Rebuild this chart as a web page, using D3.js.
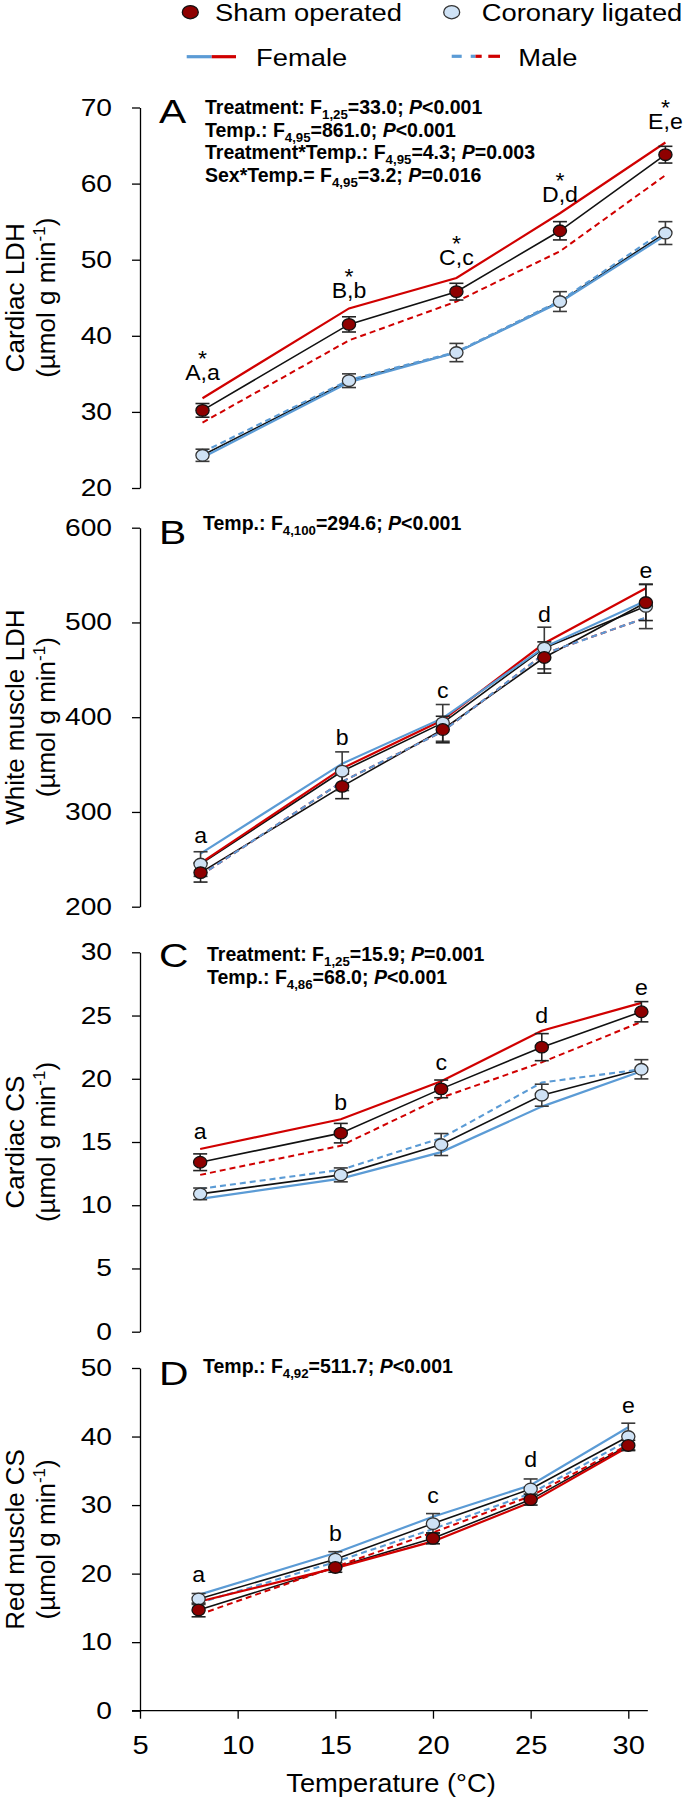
<!DOCTYPE html>
<html><head><meta charset="utf-8">
<script src="https://cdn.jsdelivr.net/npm/d3@7/dist/d3.min.js"></script>
<style>
body{margin:0;background:#fff}
svg{display:block}
text{font-family:"Liberation Sans",Arial,Helvetica,sans-serif;fill:#000}
</style></head>
<body><svg id="chart" width="685" height="1800"></svg>
<script>
// ---------------- DATA ----------------
const xTicks = [5, 10, 15, 20, 25, 30];

// Panel A: Cardiac LDH
const tempsA = [8.2, 15.7, 21.2, 26.5, 31.9];
const shamA = [30.2, 41.5, 45.8, 53.8, 63.8];
const shamErrA = [0.9, 1.0, 1.1, 1.2, 1.1];
const corA = [24.3, 34.1, 37.8, 44.5, 53.5];
const corErrA = [0.8, 0.9, 1.2, 1.3, 1.5];
const femShamA = [31.8, 43.6, 47.6, 56.1, 65.4];
const maleShamA = [28.6, 39.4, 44.5, 51.1, 61.1];
const femCorA = [24.0, 33.9, 37.8, 44.4, 53.2];
const maleCorA = [24.7, 34.2, 37.9, 44.6, 53.9];
const sigA = ["A,a", "B,b", "C,c", "D,d", "E,e"];
const sigPosA = [34.2, 45.0, 49.3, 57.6, 67.2];
const starA = [true, true, true, true, true];
const yTicksA = [20, 30, 40, 50, 60, 70];
const notesA = ["Treatment: F_{1,25}=33.0; ~P~<0.001", "Temp.: F_{4,95}=861.0; ~P~<0.001",
  "Treatment*Temp.: F_{4,95}=4.3; ~P~=0.003", "Sex*Temp.= F_{4,95}=3.2; ~P~=0.016"];

// Panel B: White muscle LDH
const tempsB = [8.1, 15.35, 20.5, 25.7, 30.9];
const shamB = [236, 327, 387, 463, 521];
const shamErrB = [10, 13, 14, 16.5, 19];
const corB = [245, 343, 394, 473, 517];
const corErrB = [13, 20.4, 19.4, 22, 23.5];
const femShamB = [246, 346, 397, 478, 536];
const maleShamB = [233, 332, 385, 467, 505];
const femCorB = [256, 351, 399, 474, 523];
const maleCorB = [233, 332, 385, 467, 505];
const sigB = ["a", "b", "c", "d", "e"];
const sigPosB = [267, 371, 420, 501, 547];
const starB = [false, false, false, false, false];
const yTicksB = [200, 300, 400, 500, 600];
const notesB = ["Temp.: F_{4,100}=294.6; ~P~<0.001"];

// Panel C: Cardiac CS
const tempsC = [8.08, 15.28, 20.42, 25.57, 30.67];
const shamC = [13.4, 15.7, 19.2, 22.5, 25.3];
const shamErrC = [0.66, 0.77, 0.7, 1.07, 0.8];
const corC = [10.9, 12.4, 14.8, 18.7, 20.75];
const corErrC = [0.46, 0.55, 0.87, 0.87, 0.76];
const femShamC = [14.45, 16.8, 19.8, 23.8, 26.0];
const maleShamC = [12.4, 14.7, 18.5, 21.3, 24.5];
const femCorC = [10.5, 12.1, 14.2, 17.8, 20.6];
const maleCorC = [11.3, 12.8, 15.3, 19.7, 20.75];
const sigC = ["a", "b", "c", "d", "e"];
const sigPosC = [15.2, 17.5, 20.7, 24.4, 26.6];
const starC = [false, false, false, false, false];
const yTicksC = [0, 5, 10, 15, 20, 25, 30];
const notesC = ["Treatment: F_{1,25}=15.9; ~P~=0.001", "Temp.: F_{4,86}=68.0; ~P~<0.001"];

// Panel D: Red muscle CS
const tempsD = [8, 15, 20, 25, 30];
const shamD = [14.7, 20.9, 25.15, 30.8, 38.7];
const shamErrD = [1.0, 0.7, 0.8, 0.8, 0.75];
const corD = [16.3, 22.1, 27.3, 32.35, 40.0];
const corErrD = [0.8, 1.1, 1.46, 1.46, 1.95];
const femShamD = [15.9, 20.8, 24.7, 30.4, 38.5];
const maleShamD = [14.0, 21.0, 26.0, 31.3, 38.8];
const femCorD = [16.9, 23.0, 28.3, 32.9, 41.35];
const maleCorD = [15.7, 21.7, 26.5, 31.7, 39.4];
const sigD = ["a", "b", "c", "d", "e"];
const sigPosD = [18.8, 24.7, 30.3, 35.6, 43.4];
const starD = [false, false, false, false, false];
const yTicksD = [0, 10, 20, 30, 40, 50];
const notesD = ["Temp.: F_{4,92}=511.7; ~P~<0.001"];

// ---------------- STYLE / LAYOUT ----------------
const RED = "#d00000", BLUE = "#5b9bd5", DARKRED = "#8e0000", LIGHTBLUE = "#cfe2f5";
const svg = d3.select("#chart");
const x = d3.scaleLinear().domain([5, 30]).range([140, 628.3]);

const panels = [
  {letter: "A", title: "Cardiac LDH", temps: tempsA, sham: shamA, shamErr: shamErrA, cor: corA, corErr: corErrA,
   fS: femShamA, mS: maleShamA, fC: femCorA, mC: maleCorA, sig: sigA, sigPos: sigPosA, star: starA,
   ticks: yTicksA, range: [488, 107.5], notes: notesA, noteX: 205, noteY: 114, letterY: 123},
  {letter: "B", title: "White muscle LDH", temps: tempsB, sham: shamB, shamErr: shamErrB, cor: corB, corErr: corErrB,
   fS: femShamB, mS: maleShamB, fC: femCorB, mC: maleCorB, sig: sigB, sigPos: sigPosB, star: starB,
   ticks: yTicksB, range: [906.7, 527.7], notes: notesB, noteX: 203, noteY: 530, letterY: 544},
  {letter: "C", title: "Cardiac CS", temps: tempsC, sham: shamC, shamErr: shamErrC, cor: corC, corErr: corErrC,
   fS: femShamC, mS: maleShamC, fC: femCorC, mC: maleCorC, sig: sigC, sigPos: sigPosC, star: starC,
   ticks: yTicksC, range: [1331.7, 952.3], notes: notesC, noteX: 207, noteY: 961, letterY: 967},
  {letter: "D", title: "Red muscle CS", temps: tempsD, sham: shamD, shamErr: shamErrD, cor: corD, corErr: corErrD,
   fS: femShamD, mS: maleShamD, fC: femCorD, mC: maleCorD, sig: sigD, sigPos: sigPosD, star: starD,
   ticks: yTicksD, range: [1710.7, 1368], notes: notesD, noteX: 203, noteY: 1373, letterY: 1385}
];

function stext(g, x0, y0, str, size, kx, anchor) {
  const t = g.append("text")
    .attr("transform", `translate(${x0},${y0}) scale(${kx},1)`)
    .attr("font-size", size).text(str);
  if (anchor) t.attr("text-anchor", anchor);
  return t;
}

function richText(g, x0, y0, str, size) {
  const t = g.append("text").attr("x", x0).attr("y", y0)
    .attr("font-size", size).attr("font-weight", "bold");
  const parts = str.split(/(_\{[^}]*\}|~[^~]+~)/).filter(s => s.length);
  let shifted = false;
  parts.forEach(p => {
    if (p.startsWith("_{")) {
      t.append("tspan").attr("dy", 5).attr("font-size", size * 0.68).text(p.slice(2, -1));
      shifted = true;
    } else {
      const ts = t.append("tspan");
      if (shifted) { ts.attr("dy", -5); shifted = false; }
      if (p.startsWith("~")) ts.attr("font-style", "italic").text(p.slice(1, -1));
      else ts.text(p);
    }
  });
}

panels.forEach((P, pi) => {
  const g = svg.append("g");
  const y = d3.scaleLinear().domain(d3.extent(P.ticks)).range(P.range);
  const px = i => x(P.temps[i]);

  // y axis
  const ax = g.append("g").attr("transform", `translate(${x(5)},0)`)
    .call(d3.axisLeft(y).tickValues(P.ticks).tickSize(8).tickSizeOuter(0).tickPadding(20));
  ax.select(".domain").attr("stroke", "#000").attr("stroke-width", 1.3);
  ax.selectAll(".tick line").attr("stroke", "#000").attr("stroke-width", 1.3);
  ax.selectAll(".tick text").attr("font-size", 23.5).attr("font-family", null)
    .attr("x", -28 / 1.2).attr("transform", "scale(1.2,1)").attr("fill", "#000");
  ax.attr("font-family", null).attr("font-size", null);

  // y title (two lines)
  const yc = (P.range[0] + P.range[1]) / 2;
  g.append("text").attr("transform", `translate(24,${yc}) rotate(-90)`)
    .attr("text-anchor", "middle").attr("font-size", 26).text(P.title);
  const t2 = g.append("text").attr("transform", `translate(55,${yc}) rotate(-90)`)
    .attr("text-anchor", "middle").attr("font-size", 26);
  t2.append("tspan").text("(\u00b5mol g min");
  t2.append("tspan").attr("dy", -10).attr("font-size", 17).text("-1");
  t2.append("tspan").attr("dy", 10).text(")");

  // panel letter
  stext(g, 159, P.letterY, P.letter, 34, 1.2);

  // notes
  P.notes.forEach((n, i) => richText(g, P.noteX, P.noteY + i * 22.7, n, 19.5));

  const idx = d3.range(P.temps.length);
  const line = arr => d3.line().x((d, i) => px(i)).y(d => y(d))(arr);

  // mean lines (black)
  g.append("path").attr("d", line(P.sham)).attr("fill", "none").attr("stroke", "#111").attr("stroke-width", 1.6);
  g.append("path").attr("d", line(P.cor)).attr("fill", "none").attr("stroke", "#111").attr("stroke-width", 1.6);

  // sex lines (male dashed first, then female solid)
  g.append("path").attr("d", line(P.mS)).attr("fill", "none").attr("stroke", RED).attr("stroke-width", 2)
    .attr("stroke-dasharray", "6,4");
  g.append("path").attr("d", line(P.mC)).attr("fill", "none").attr("stroke", BLUE).attr("stroke-width", 2.1)
    .attr("stroke-dasharray", "6,4");
  g.append("path").attr("d", line(P.fS)).attr("fill", "none").attr("stroke", RED).attr("stroke-width", 2.2);
  g.append("path").attr("d", line(P.fC)).attr("fill", "none").attr("stroke", BLUE).attr("stroke-width", 2.2);

  // error bars
  const ebar = (vals, errs, col) => idx.forEach(i => {
    const xx = px(i), y1 = y(vals[i] - errs[i]), y2 = y(vals[i] + errs[i]);
    g.append("line").attr("x1", xx).attr("x2", xx).attr("y1", y1).attr("y2", y2).attr("stroke", col).attr("stroke-width", 1.6);
    [y1, y2].forEach(yy => g.append("line").attr("x1", xx - 7).attr("x2", xx + 7).attr("y1", yy).attr("y2", yy)
      .attr("stroke", col).attr("stroke-width", 1.6));
  });
  ebar(P.cor, P.corErr, "#3a3a3a");
  ebar(P.sham, P.shamErr, "#222");

  // markers
  idx.forEach(i => g.append("ellipse").attr("cx", px(i)).attr("cy", y(P.cor[i])).attr("rx", 6.6).attr("ry", 5.8)
    .attr("fill", LIGHTBLUE).attr("stroke", "#333").attr("stroke-width", 1.3));
  idx.forEach(i => g.append("ellipse").attr("cx", px(i)).attr("cy", y(P.sham[i])).attr("rx", 6.6).attr("ry", 5.8)
    .attr("fill", DARKRED).attr("stroke", "#111").attr("stroke-width", 1.3));

  // significance labels (asterisk + letters in one text element)
  idx.forEach(i => {
    const yy = y(P.sigPos[i]);
    const t = g.append("text").attr("transform", `translate(${px(i)},${yy}) scale(1.05,1)`)
      .attr("font-size", 22).attr("text-anchor", "middle");
    if (P.star[i]) t.append("tspan").attr("x", 0).attr("y", -14).text("*");
    t.append("tspan").attr("x", 0).attr("y", 0).text(P.sig[i]);
  });

  // bottom axis only on last panel
  if (pi === panels.length - 1) {
    const y0 = P.range[0];
    const bx = g.append("g").attr("transform", `translate(0,${y0})`)
      .call(d3.axisBottom(x).tickValues(xTicks).tickSize(8).tickSizeOuter(0).tickPadding(16.5));
    bx.select(".domain").remove();
    bx.selectAll(".tick line").attr("stroke", "#000").attr("stroke-width", 1.3);
    bx.selectAll(".tick text").attr("font-size", 26).attr("transform", "scale(1.12,1)").attr("fill", "#000");
    bx.attr("font-family", null).attr("font-size", null);
    g.append("line").attr("x1", x(5) - 8).attr("x2", x(31)).attr("y1", y0).attr("y2", y0)
      .attr("stroke", "#000").attr("stroke-width", 1.3);
    stext(g, 391, 1792, "Temperature (\u00b0C)", 25.5, 1.07, "middle");
  }
});

// ---------------- LEGEND ----------------
const lg = svg.append("g");
lg.append("ellipse").attr("cx", 190.3).attr("cy", 12.2).attr("rx", 8).attr("ry", 6.6)
  .attr("fill", DARKRED).attr("stroke", "#111").attr("stroke-width", 1.3);
stext(lg, 215, 21, "Sham operated", 24, 1.14);
lg.append("ellipse").attr("cx", 451.7).attr("cy", 12.2).attr("rx", 8).attr("ry", 6.6)
  .attr("fill", LIGHTBLUE).attr("stroke", "#333").attr("stroke-width", 1.3);
stext(lg, 481.7, 21, "Coronary ligated", 24, 1.14);
lg.append("line").attr("x1", 186.7).attr("x2", 211.7).attr("y1", 56.7).attr("y2", 56.7).attr("stroke", BLUE).attr("stroke-width", 3.2);
lg.append("line").attr("x1", 211.7).attr("x2", 236).attr("y1", 56.7).attr("y2", 56.7).attr("stroke", RED).attr("stroke-width", 3.2);
stext(lg, 256, 66, "Female", 24, 1.14);
[[451.7, 461.7, BLUE], [470.7, 475.5, BLUE], [475.5, 481.7, RED], [488.3, 500, RED]].forEach(s =>
  lg.append("line").attr("x1", s[0]).attr("x2", s[1]).attr("y1", 56.3).attr("y2", 56.3).attr("stroke", s[2]).attr("stroke-width", 3.2));
stext(lg, 518.3, 66, "Male", 24, 1.14);
</script>
</body></html>
